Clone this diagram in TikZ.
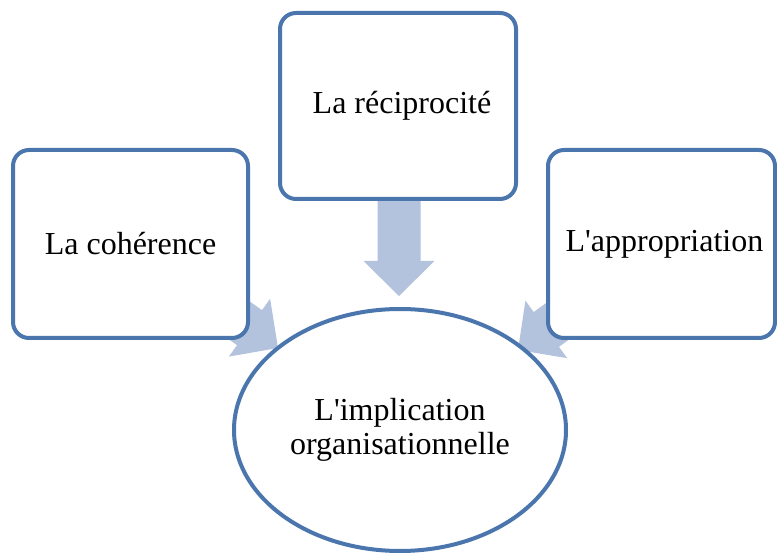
\documentclass[tikz,border=0pt]{standalone}
\usepackage{fontspec}
\setmainfont{Liberation Serif}
\definecolor{edgeblue}{HTML}{4A76AD}
\definecolor{arrowfill}{HTML}{B3C2DD}
\tikzset{
  card/.style={draw=edgeblue, line width=4pt, fill=white, rounded corners=16pt,
    inner sep=0pt, align=center, font=\fontsize{32}{38}\selectfont},
  goal/.style={draw=edgeblue, line width=4pt, fill=white, ellipse,
    inner sep=0pt, align=center, font=\fontsize{32}{34}\selectfont},
  blockarrow/.style={fill=arrowfill, draw=none}
}
\usetikzlibrary{shapes.geometric}
% fat arrow: tip position, direction angle, total length
\newcommand{\fatarrow}[3]{%
  \begin{scope}[shift={#1}, rotate=#2]
    \fill[blockarrow] (0,0) -- (-35,35.5) -- (-35,21.5) -- (-#3,21.5)
      -- (-#3,-21.5) -- (-35,-21.5) -- (-35,-35.5) -- cycle;
  \end{scope}}
\begin{document}
\begin{tikzpicture}[x=1pt,y=-1pt]
  \useasboundingbox (0,0) rectangle (777,553);
  % arrows sit behind the boxes
  \fatarrow{(399,296)}{-90}{110}
  \fatarrow{(278,348)}{-35.5}{120}
  \fatarrow{(518,350)}{-144}{120}
  % three source boxes
  \node[card, minimum width=236pt, minimum height=186pt] (rec) at (398,106) {\hspace*{8pt}La réciprocité};
  \node[card, minimum width=235pt, minimum height=188pt] (coh) at (130.5,244) {La cohérence};
  \node[card, minimum width=227pt, minimum height=188pt] (app) at (661.5,244) {\hspace*{6pt}L\textquotesingle appropriation};
  % target ellipse
  \node[goal, minimum width=332pt, minimum height=242pt] (imp) at (400,430)
    {L\textquotesingle implication\\organisationnelle};
\end{tikzpicture}
\end{document}
